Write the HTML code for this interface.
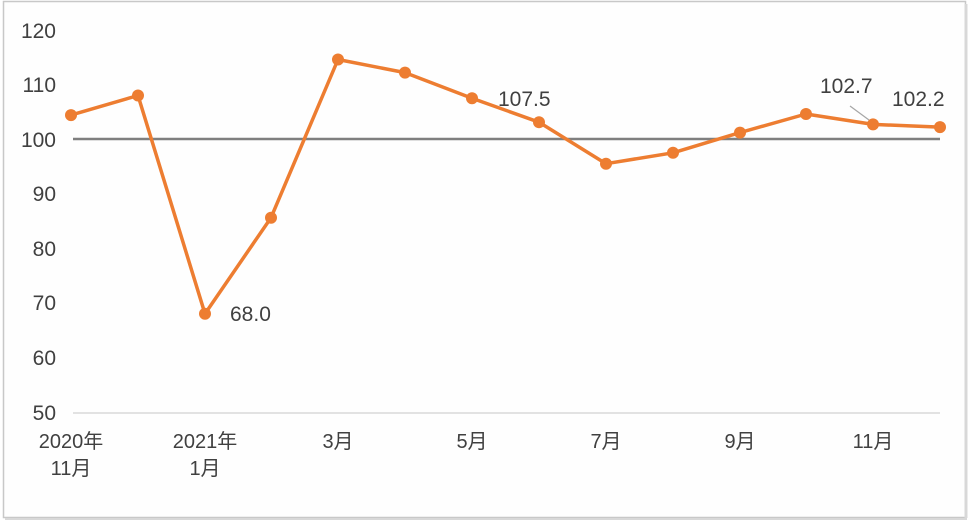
<!DOCTYPE html>
<html><head><meta charset="utf-8"><style>
html,body{margin:0;padding:0;background:#fff;}
body{width:975px;height:523px;overflow:hidden;}
</style></head><body>
<svg width="975" height="523" xmlns="http://www.w3.org/2000/svg" style="font-family:'Liberation Sans','Noto Sans CJK SC',sans-serif">
<rect x="0" y="0" width="975" height="523" fill="#fff"/>
<rect x="3.5" y="1.5" width="962" height="516" fill="#fefefe" stroke="#c8c8c8" stroke-width="1.5"/>
<line x1="966" y1="4" x2="966" y2="518" stroke="#d8d8d8" stroke-width="3"/>
<line x1="5" y1="519" x2="967" y2="519" stroke="#d8d8d8" stroke-width="2"/>
<g fill="#404040" font-size="21" text-anchor="end">
<text x="56" y="38">120</text>
<text x="56" y="92">110</text>
<text x="56" y="147">100</text>
<text x="56" y="201">90</text>
<text x="56" y="256">80</text>
<text x="56" y="310">70</text>
<text x="56" y="365">60</text>
<text x="56" y="420">50</text>
</g>
<line x1="73" y1="413" x2="940" y2="413" stroke="#d9d9d9" stroke-width="1.5"/>
<line x1="73" y1="139" x2="940" y2="139" stroke="#7f7f7f" stroke-width="2.5"/>
<g fill="#404040" font-size="20" text-anchor="middle">
<text x="71" y="448">2020年</text><text x="71" y="475">11月</text>
<text x="205" y="448">2021年</text><text x="205" y="475">1月</text>
<text x="338" y="448">3月</text>
<text x="472" y="448">5月</text>
<text x="606" y="448">7月</text>
<text x="740" y="448">9月</text>
<text x="873" y="448">11月</text>
</g>
<polyline fill="none" stroke="#ed7d31" stroke-width="3.5" stroke-linejoin="round" points="71,115.1 138,95.5 205,313.8 271,217.7 338,59.5 405,72.6 472,98.2 539,122.2 606,163.7 673,152.8 740,132.6 806,114 873,124.4 940,127.1"/>
<g fill="#ed7d31">
<circle cx="71" cy="115.1" r="6"/><circle cx="138" cy="95.5" r="6"/><circle cx="205" cy="313.8" r="6"/><circle cx="271" cy="217.7" r="6"/><circle cx="338" cy="59.5" r="6"/><circle cx="405" cy="72.6" r="6"/><circle cx="472" cy="98.2" r="6"/><circle cx="539" cy="122.2" r="6"/><circle cx="606" cy="163.7" r="6"/><circle cx="673" cy="152.8" r="6"/><circle cx="740" cy="132.6" r="6"/><circle cx="806" cy="114" r="6"/><circle cx="873" cy="124.4" r="6"/><circle cx="940" cy="127.1" r="6"/>
</g>
<line x1="850" y1="106" x2="869" y2="120" stroke="#a6a6a6" stroke-width="1.2"/>
<g fill="#404040" font-size="21">
<text x="230" y="321">68.0</text>
<text x="498" y="106">107.5</text>
<text x="820" y="93">102.7</text>
<text x="892" y="106">102.2</text>
</g>
</svg>
</body></html>
